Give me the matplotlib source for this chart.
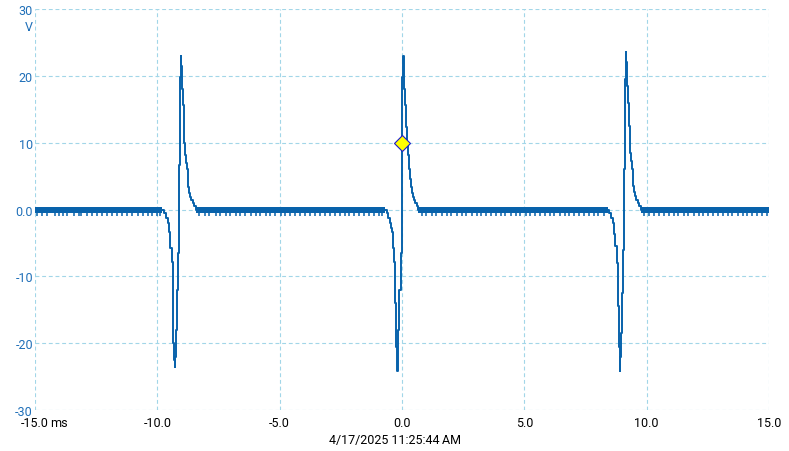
import numpy as np
from matplotlib import pyplot as plt

# pulse centres (ms)
pulse_centres = [-9.09, 0.0, 9.10]

# pulse shape: time offset from centre (ms) and voltage (V)
pulse_dt = [-0.70, -0.62, -0.56, -0.49, -0.45, -0.42, -0.38, -0.33, -0.29, -0.25,
            -0.21, -0.19, -0.17, -0.15, -0.11, -0.05, -0.01, 0.01, 0.04, 0.07,
            0.10, 0.12, 0.16, 0.20, 0.23, 0.27, 0.30, 0.33, 0.36, 0.40,
            0.44, 0.48, 0.53, 0.60, 0.67]
pulse_v1 = [0.0, -0.5, -1.2, -2.0, -2.8, -3.4, -5.7, -7.8, -14.0, -20.0,
            -22.5, -23.6, -22.0, -18.0, -12.0, -6.5, 6.6, 19.8, 23.0, 21.5,
            18.0, 15.7, 12.4, 10.0, 8.2, 7.0, 6.0, 4.5, 3.4, 2.5,
            1.9, 1.4, 1.0, 0.5, 0.0]
pulse_v2 = [0.0, -0.5, -1.2, -2.0, -2.8, -3.4, -5.7, -7.8, -14.0, -20.5,
            -23.0, -24.2, -22.5, -18.0, -12.0, -6.5, 6.6, 19.8, 23.0, 22.0,
            18.0, 15.7, 12.4, 10.0, 8.2, 7.0, 6.0, 4.5, 3.4, 2.5,
            1.9, 1.4, 1.0, 0.5, 0.0]
pulse_v3 = [0.0, -0.5, -1.2, -2.0, -2.8, -3.6, -5.5, -8.0, -14.5, -20.5,
            -23.2, -24.2, -22.0, -18.5, -12.5, -6.0, 6.0, 19.5, 23.5, 22.0,
            18.5, 16.0, 12.5, 10.5, 8.5, 7.2, 6.0, 4.6, 3.5, 2.6,
            2.0, 1.4, 1.0, 0.5, 0.0]
pulse_vals = [pulse_v1, pulse_v2, pulse_v3]

# quantisation spikes below the baseline band (ms)
spike_t = [-14.92, -14.70, -14.52, -14.18, -14.00, -13.85, -13.68, -13.40, -13.22, -13.10,
           -12.86, -12.65, -12.45, -12.28, -12.04, -11.84, -11.63, -11.43, -11.22, -11.05,
           -10.80, -10.60, -10.40, -10.20, -10.00, -9.88,
           -8.30, -8.05, -7.90, -7.62, -7.45, -7.20, -7.02, -6.80, -6.61, -6.40,
           -6.18, -5.98, -5.80, -5.55, -5.40, -5.18, -4.96, -4.78, -4.56, -4.38,
           -4.15, -3.95, -3.78, -3.55, -3.36, -3.15, -2.96, -2.75, -2.55, -2.35,
           -2.16, -1.95, -1.74, -1.55, -1.35, -1.16, -0.95, -0.80,
           0.80, 1.00, 1.22, 1.40, 1.62, 1.85, 2.02, 2.25, 2.45, 2.62,
           2.85, 3.05, 3.22, 3.45, 3.62, 3.86, 4.05, 4.22, 4.45, 4.65,
           4.82, 5.05, 5.25, 5.44, 5.62, 5.85, 6.05, 6.22, 6.45, 6.65,
           6.82, 7.05, 7.25, 7.42, 7.66, 7.85, 8.02, 8.25,
           9.90, 10.10, 10.32, 10.50, 10.72, 10.90, 11.12, 11.30, 11.52, 11.70,
           11.92, 12.12, 12.30, 12.52, 12.70, 12.92, 13.10, 13.32, 13.50, 13.72,
           13.92, 14.10, 14.32, 14.52, 14.70, 14.90]

# cursor marker
cursor_t = 0.0
cursor_v = 10.0

x_ticks = [-15, -10, -5, 0, 5, 10, 15]
x_labels = ['-15.0', '-10.0', '-5.0', '0.0', '5.0', '10.0', '15.0']
y_ticks = [-30, -20, -10, 0, 10, 20, 30]
y_labels = ['-30', '-20', '-10', '0.0', '10', '20', '30']
timestamp = '4/17/2025 11:25:44\u202fAM'

trace_col = '#0862ab'
grid_col = '#a2d6e8'
label_blue = '#1f6fb8'

plt.rcParams['font.family'] = ['Roboto', 'DejaVu Sans']
plt.rcParams['font.size'] = 9

fig = plt.figure(figsize=(7.89, 4.52), dpi=100)
ax = fig.add_axes([35/789, 1 - 411/452, 734/789, 401/452])

#Building the full trace: baseline between pulses, pulses as steps
t_all = [-15.0]
v_all = [0.0]
for c, vals in zip(pulse_centres, pulse_vals):
    for dt, v in zip(pulse_dt, vals):
        t_all.append(c + dt)
        v_all.append(v)
t_all.append(15.0)
v_all.append(0.0)
ax.plot(t_all, v_all, color=trace_col, lw=1.4, drawstyle='steps-post', zorder=3)

#Thick baseline band between pulses
edges = [-15.0]
for c in pulse_centres:
    edges += [c + pulse_dt[0], c + pulse_dt[-1]]
edges.append(15.0)
for a, b in zip(edges[0::2], edges[1::2]):
    ax.fill_between([a, b], -0.45, 0.3, color=trace_col, lw=0, zorder=3)
ax.vlines(spike_t, -0.9, -0.3, color=trace_col, lw=1.1, zorder=3)

ax.plot([cursor_t], [cursor_v], marker='D', ms=8, mfc='#ffff00', mec='#1a1acc',
        mew=0.8, zorder=5)

ax.set_xlim(-15, 15)
ax.set_ylim(-30, 30)
ax.set_xticks(x_ticks)
ax.set_xticklabels(x_labels)
ax.set_yticks(y_ticks)
ax.set_yticklabels(y_labels, color=label_blue)
ax.tick_params(axis='x', length=0, pad=4.5, labelcolor='black')
ax.tick_params(axis='y', length=0, pad=1.5)
for s in ax.spines.values():
    s.set_visible(False)
ax.grid(True, color=grid_col, lw=0.8, linestyle=(0, (3.5, 2.5)))
ax.set_axisbelow(True)

ax.annotate('ms', xy=(-15, -30), xytext=(15, -6), textcoords='offset pixels',
            ha='left', va='top', fontsize=9)
ax.annotate('V', xy=(-15, 30), xytext=(-6, -17), textcoords='offset pixels',
            ha='center', va='center', fontsize=9, color=label_blue)
fig.text(395/789, 1 - 441/452, timestamp, ha='center', va='center', fontsize=9)

plt.savefig('out.png', dpi=100)
